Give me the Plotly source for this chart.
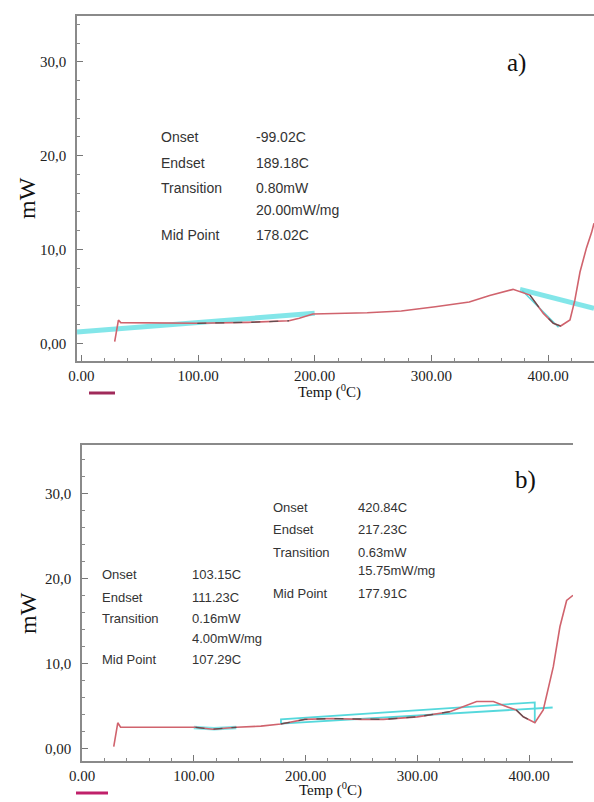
import plotly.graph_objects as go

W, H = 594, 802

# ---------------- data ----------------
# panel a) DSC curve
a_temp = [28.6, 31.8, 33.8, 60, 99.4, 143.1, 178, 186.8, 198.5, 245, 274.2, 303.4,
          332.5, 350, 370, 384.5, 396, 404.5, 410.8, 418.8, 423, 427.4, 433, 437.3, 439.4]
a_mw = [0.17, 2.48, 2.2, 2.18, 2.13, 2.23, 2.4, 2.66, 3.12, 3.26, 3.44, 3.9,
        4.4, 5.1, 5.75, 5.14, 3.19, 2.13, 1.84, 2.48, 4.6, 7.6, 10.2, 11.8, 12.8]
# panel a) baselines / tangents
a_base1_t = [-3.7, 200]
a_base1_mw = [1.2, 3.2]
a_base2_t = [376, 439.4]
a_base2_mw = [5.75, 3.72]
a_tan_t = [378, 396, 409]
a_tan_mw = [5.6, 3.3, 1.7]

# panel b) DSC curve
b_temp = [28.4, 32, 34.5, 60, 101.6, 116.9, 138.2, 160, 177.9, 199.3, 223.7, 250,
          269.5, 299.9, 329, 353, 368, 380, 388.4, 394.7, 405.1, 412.6, 421.6, 427.5, 433.5, 439.2]
b_mw = [0.19, 3.0, 2.47, 2.47, 2.47, 2.24, 2.47, 2.6, 2.86, 3.4, 3.5, 3.4,
        3.4, 3.7, 4.3, 5.5, 5.5, 4.9, 4.5, 3.7, 3.0, 4.5, 9.6, 14.3, 17.4, 18.0]
b_seg1_t = [100, 118, 138]
b_seg1_mw = [2.45, 2.3, 2.45]
b_box_t = [178, 178, 405, 405]
b_box_mw = [2.86, 3.4, 5.4, 3.0]
b_line_t = [178, 421]
b_line_mw = [2.9, 4.8]

x_tickvals = [0, 100, 200, 300, 400]
x_ticktext = ["0.00", "100.00", "200.00", "300.00", "400.00"]
y_tickvals = [0, 10, 20, 30]
y_ticktext = ["0,00", "10,0", "20,0", "30,0"]

a_labels = ["Onset", "Endset", "Transition", "Mid Point"]
a_values = ["-99.02C", "189.18C", "0.80mW", "20.00mW/mg", "178.02C"]
b1_labels = ["Onset", "Endset", "Transition", "Mid Point"]
b1_values = ["420.84C", "217.23C", "0.63mW", "15.75mW/mg", "177.91C"]
b2_labels = ["Onset", "Endset", "Transition", "Mid Point"]
b2_values = ["103.15C", "111.23C", "0.16mW", "4.00mW/mg", "107.29C"]

RED = "#d0636d"
CYAN_THICK = "rgba(90,222,225,0.75)"
CYAN = "#55d8dc"
DARK = "rgba(70,70,70,0.8)"

fig = go.Figure()

def line(x, y, color, width, xa, ya, dash="solid"):
    fig.add_trace(go.Scatter(x=x, y=y, mode="lines", line=dict(color=color, width=width, dash=dash),
                             xaxis=xa, yaxis=ya, showlegend=False, hoverinfo="skip"))

# panel a
line(a_base1_t, a_base1_mw, CYAN_THICK, 5, "x", "y")
line(a_base2_t, a_base2_mw, CYAN_THICK, 5, "x", "y")
line(a_tan_t, a_tan_mw, CYAN, 1.5, "x", "y")
line(a_temp, a_mw, RED, 1.6, "x", "y")
# darker analysed stretches of the same curve
line(a_temp[4:7], a_mw[4:7], DARK, 1.3, "x", "y", "dash")
line(a_temp[15:19], a_mw[15:19], DARK, 1.3, "x", "y", "longdash")
# panel b
line(b_seg1_t, b_seg1_mw, CYAN_THICK, 3.5, "x2", "y2")
line(b_box_t, b_box_mw, CYAN, 1.8, "x2", "y2")
line(b_line_t, b_line_mw, CYAN, 1.8, "x2", "y2")
line(b_temp, b_mw, RED, 1.6, "x2", "y2")
line(b_temp[4:7], b_mw[4:7], DARK, 1.3, "x2", "y2", "dash")
line(b_temp[8:15], b_mw[8:15], DARK, 1.3, "x2", "y2", "dash")
line(b_temp[18:21], b_mw[18:21], DARK, 1.3, "x2", "y2", "longdash")

axis_line = "#8a8a8a"
serif = "Liberation Serif, Times New Roman, serif"

def xaxis(domain, rng, anchor):
    return dict(domain=domain, range=rng, anchor=anchor, showline=True, linecolor=axis_line,
                linewidth=1.5, mirror=True, showgrid=False, zeroline=False, automargin=False,
                tickvals=x_tickvals, ticktext=x_ticktext, ticks="inside", ticklen=6,
                tickcolor="#777", tickwidth=1,
                minor=dict(dtick=20, tick0=0, ticks="inside", ticklen=3, tickcolor="#888"),
                tickfont=dict(family=serif, size=15, color="#222"))

def yaxis(domain, rng, anchor):
    return dict(domain=domain, range=rng, anchor=anchor, showline=True, linecolor=axis_line,
                linewidth=1.5, mirror=False, showgrid=False, zeroline=False, automargin=False,
                tickvals=y_tickvals, ticktext=y_ticktext, ticks="inside", ticklen=6,
                tickcolor="#777", tickwidth=1, ticklabelstandoff=6,
                minor=dict(dtick=2, tick0=0, ticks="inside", ticklen=3, tickcolor="#888"),
                tickfont=dict(family=serif, size=15, color="#222"))

fig.update_layout(
    width=W, height=H, margin=dict(l=0, r=0, t=0, b=0, autoexpand=False),
    paper_bgcolor="white", plot_bgcolor="white", showlegend=False,
    xaxis=xaxis([77 / W, 594 / W], [-3.7, 439.4], "y"),
    yaxis=yaxis([1 - 361 / H, 1 - 16 / H], [-1.89, 34.9], "x"),
    xaxis2=xaxis([82 / W, 573 / W], [0, 439.2], "y2"),
    yaxis2=yaxis([1 - 761 / H, 1 - 445 / H], [-1.5, 35.7], "x2"),
)

ann = []
def text(px, py, s, size, family, color="#333", xanchor="left", angle=0):
    ann.append(dict(x=px / W, y=1 - py / H, xref="paper", yref="paper", text=s, showarrow=False,
                    xanchor=xanchor, yanchor="middle", textangle=angle,
                    font=dict(size=size, family=family, color=color)))

sans = "Liberation Sans, Arial, sans-serif"
# panel a text block
for lab, py in zip(a_labels, [137, 163, 188, 235]):
    text(159, py, lab, 14, sans)
for val, py in zip(a_values, [137, 163, 188, 210, 235]):
    text(254, py, val, 14, sans)
# panel b blocks
for lab, py in zip(b1_labels, [508, 529, 552, 593]):
    text(271, py, lab, 13, sans)
for val, py in zip(b1_values, [508, 529, 552, 570, 593]):
    text(356, py, val, 13, sans)
for lab, py in zip(b2_labels, [574, 597, 618, 659]):
    text(100, py, lab, 13, sans)
for val, py in zip(b2_values, [574, 597, 618, 638, 659]):
    text(190, py, val, 13, sans)

# panel tags
text(516, 63, "a)", 25, serif, "#111", xanchor="center")
text(525, 480, "b)", 25, serif, "#111", xanchor="center")
# axis titles
text(27, 198, "mW", 24, serif, "#111", xanchor="center", angle=-90)
text(28, 613, "mW", 24, serif, "#111", xanchor="center", angle=-90)
text(329, 391, "Temp (<sup>0</sup>C)", 15, serif, "#111", xanchor="center")
text(330, 789, "Temp (<sup>0</sup>C)", 15, serif, "#111", xanchor="center")
fig.update_layout(annotations=ann)

# small legend swatches under the axes
fig.add_shape(type="line", xref="paper", yref="paper", x0=89 / W, x1=115 / W,
              y0=1 - 393 / H, y1=1 - 393 / H, line=dict(color="#a02a5a", width=3))
fig.add_shape(type="line", xref="paper", yref="paper", x0=76 / W, x1=108 / W,
              y0=1 - 793 / H, y1=1 - 793 / H, line=dict(color="#c0206a", width=3))

fig.write_html("out.html", config={"displayModeBar": False},
               post_script="document.body.style.margin='0px';document.body.style.overflow='hidden';")
